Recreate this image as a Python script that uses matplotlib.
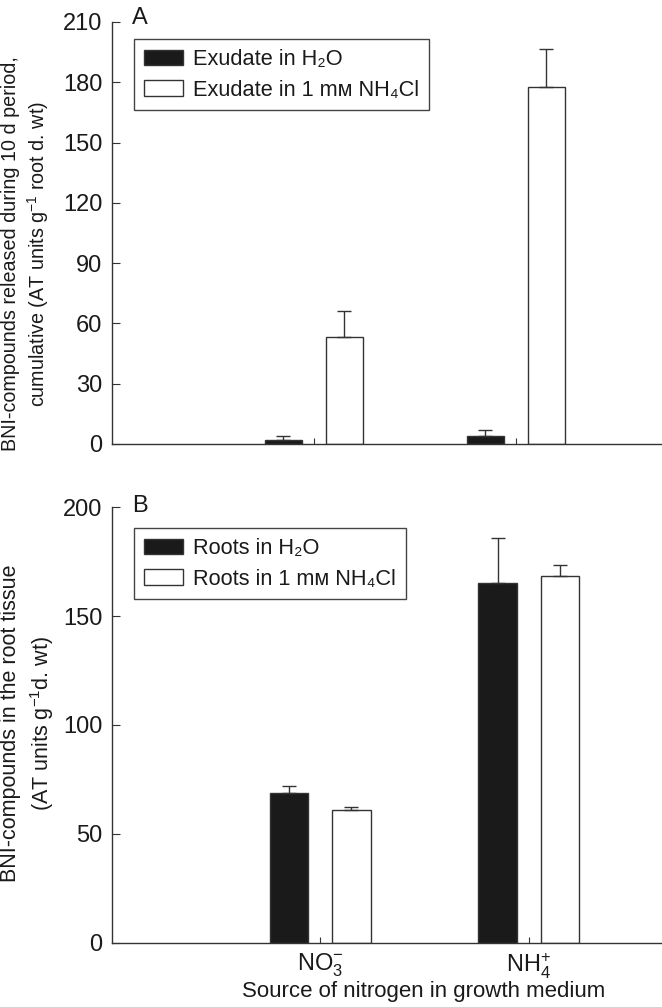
import numpy as np
import matplotlib
matplotlib.use('Agg')
import matplotlib.pyplot as plt

plt.rcParams['font.family'] = ['Liberation Sans', 'DejaVu Sans']
plt.rcParams['mathtext.fontset'] = 'custom'
plt.rcParams['mathtext.rm'] = 'Liberation Sans'
plt.rcParams['mathtext.it'] = 'Liberation Sans:italic'
plt.rcParams['mathtext.bf'] = 'Liberation Sans:bold'

# data
sources = ['$\\mathregular{NO_3^{-}}$', '$\\mathregular{NH_4^{+}}$']

exud_h2o = [2.1, 3.8]
exud_h2o_err = [1.9, 3.0]
exud_nh4 = [53.4, 177.8]
exud_nh4_err = [12.6, 18.6]

root_h2o = [68.8, 165.2]
root_h2o_err = [3.2, 20.4]
root_nh4 = [61.2, 168.3]
root_nh4_err = [1.4, 5.3]

line_col = '#333333'
text_col = '#1a1a1a'
tick_fs = 17
leg_fs = 15.7

fig = plt.figure(figsize=(6.62, 10.07), dpi=100)
ax_a = fig.add_axes([0.1692, 0.5591, 0.8308, 0.4191])
ax_b = fig.add_axes([0.1692, 0.0636, 0.8308, 0.4329])


def draw_panel(ax, v1, e1, v2, e2, off, width, labels):
    x = np.arange(1, len(v1) + 1)
    zeros = np.zeros(len(v1))
    ax.bar(x - off, v1, width, color='#1a1a1a', edgecolor=line_col, linewidth=1.0,
           yerr=[zeros, e1], capsize=4.7,
           error_kw=dict(ecolor=line_col, elinewidth=1.0, capthick=1.0), label=labels[0])
    ax.bar(x + off, v2, width, color='white', edgecolor=line_col, linewidth=1.0,
           yerr=[zeros, e2], capsize=4.7,
           error_kw=dict(ecolor=line_col, elinewidth=1.0, capthick=1.0), label=labels[1])
    ax.set_xticks(x)
    for s in ['top', 'right']:
        ax.spines[s].set_visible(False)
    for s in ['left', 'bottom']:
        ax.spines[s].set_color(line_col)
        ax.spines[s].set_linewidth(1.0)
    ax.tick_params(axis='y', direction='in', length=6, width=0.8, color=line_col,
                   labelsize=tick_fs, labelcolor=text_col, pad=7)
    ax.tick_params(axis='x', direction='in', length=4, width=0.8, color=line_col,
                   labelsize=tick_fs, labelcolor=text_col, pad=6)
    leg = ax.legend(loc='upper left', fontsize=leg_fs, frameon=True, fancybox=False,
                    framealpha=1, edgecolor='#444444', borderaxespad=0,
                    handlelength=1.8, handletextpad=0.47, labelspacing=0.45,
                    borderpad=0.45)
    leg.get_frame().set_linewidth(1.0)
    for t in leg.get_texts():
        t.set_color(text_col)
    return leg


leg_a = draw_panel(ax_a, exud_h2o, exud_h2o_err, exud_nh4, exud_nh4_err, 0.151, 0.183,
                   ['Exudate in H\u2082O', 'Exudate in 1 m\u1d0d NH\u2084Cl'])
ax_a.set_xlim(0, 2.725)
ax_a.set_ylim(0, 210)
ax_a.set_yticks(np.arange(0, 211, 30))
ax_a.set_xticklabels([])
leg_a.set_bbox_to_anchor((134 / 662, 1 - 39 / 1007), transform=fig.transFigure)

leg_b = draw_panel(ax_b, root_h2o, root_h2o_err, root_nh4, root_nh4_err, 0.149, 0.184,
                   ['Roots in H\u2082O', 'Roots in 1 m\u1d0d NH\u2084Cl'])
ax_b.set_xlim(0, 2.64)
ax_b.set_ylim(0, 200)
ax_b.set_yticks(np.arange(0, 201, 50))
ax_b.set_xticklabels(sources)
leg_b.set_bbox_to_anchor((134 / 662, 1 - 528 / 1007), transform=fig.transFigure)

ax_b.set_xlabel('Source of nitrogen in growth medium', fontsize=16, color=text_col)
ax_b.xaxis.set_label_coords((424 - 112) / 550, -0.088)

fig.text(26 / 662, 1 - 254 / 1007,
         'BNI-compounds released during 10 d period,\ncumulative (AT units g$^{-1}$ root d. wt)',
         rotation=90, ha='center', va='center', fontsize=14.2, color=text_col, linespacing=1.3)
fig.text(28 / 662, 1 - 723 / 1007,
         'BNI-compounds in the root tissue\n(AT units g$^{-1}$d. wt)',
         rotation=90, ha='center', va='center', fontsize=15.5, color=text_col, linespacing=1.3)

fig.text(132 / 662, 1 - 24 / 1007, 'A', fontsize=17, color=text_col, ha='left', va='baseline')
fig.text(132 / 662, 1 - 512 / 1007, 'B', fontsize=17, color=text_col, ha='left', va='baseline')

fig.savefig('out.png', dpi=100)
